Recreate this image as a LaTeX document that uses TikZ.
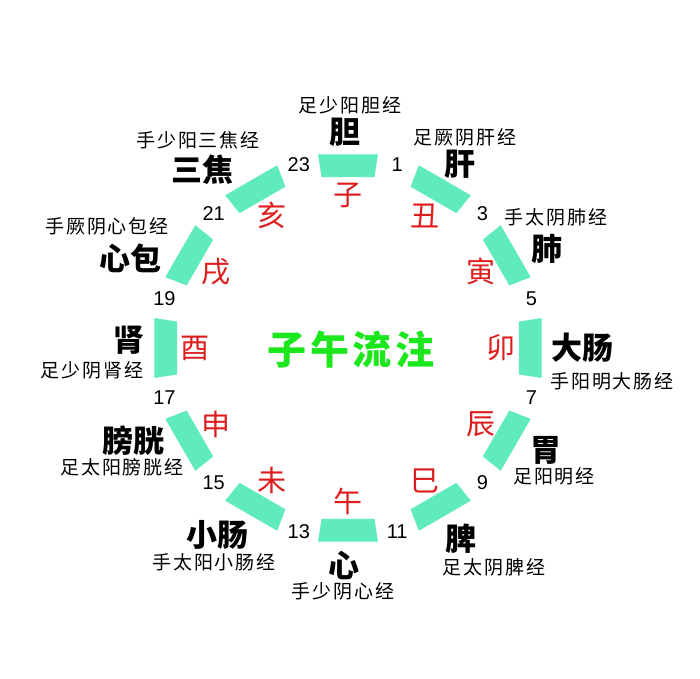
\documentclass[tikz,border=0pt]{standalone}
\usepackage{fontspec}
\setmainfont{Liberation Sans}
\newfontfamily\cjk{Noto Sans CJK SC}
\newfontfamily\cjkm{Noto Sans CJK SC}[LetterSpace=10]
\newfontfamily\cjkc{Noto Sans CJK SC}[LetterSpace=10]
\definecolor{mint}{RGB}{95,235,190}
\definecolor{zred}{RGB}{222,30,30}
\definecolor{zgreen}{RGB}{28,230,28}
\tikzset{
  organ/.style={inner sep=0pt, font=\cjk\bfseries\fontsize{31}{33}\selectfont},
  merid/.style={inner sep=0pt, font=\cjkm\fontsize{19}{22}\selectfont},
  branch/.style={inner sep=0pt, text=zred, font=\cjk\fontsize{29}{31}\selectfont},
  hour/.style={inner sep=0pt, font=\fontsize{20}{22}\selectfont},
  seg/.style={fill=mint, draw=none},
  title/.style={inner sep=0pt, text=zgreen, font=\cjkc\bfseries\fontsize{39}{42}\selectfont}
}
\begin{document}
\begin{tikzpicture}[x=1pt,y=-1pt]
\useasboundingbox[fill=white] (0,0) rectangle (700,678);
% ring
\begin{scope}[shift={(348,348)}, yscale=-1]
  \foreach \k/\b in {0/子,1/丑,2/寅,3/卯,4/辰,5/巳,6/午,7/未,8/申,9/酉,10/戌,11/亥}{
    \pgfmathsetmacro{\a}{90-30*\k}
    \fill[seg] (\a-8.8:173) -- (\a+8.8:173) -- (\a+8.8:196) -- (\a-8.8:196) -- cycle;
    \node[branch] (br\k) at (\a:153) {\b};
  }
  \foreach \k/\h in {0/1,1/3,2/5,3/7,4/9,5/11,6/13,7/15,8/17,9/19,10/21,11/23}{
    \pgfmathsetmacro{\a}{75-30*\k}
    \node[hour] (h\k) at (\a:190) {\h};
  }
\end{scope}
% centre title
\node[title] (title) at (351,350) {子午流注};
% organs and meridians
\node[organ] (o0) at (345,132) {胆};
\node[merid] (m0) at (350,105) {足少阳胆经};
\node[organ] (o1) at (460,164) {肝};
\node[merid] (m1) at (465,137) {足厥阴肝经};
\node[organ] (o2) at (547,249) {肺};
\node[merid] (m2) at (556,217) {手太阴肺经};
\node[organ] (o3) at (582,348) {大肠};
\node[merid] (m3) at (612,381) {手阳明大肠经};
\node[organ] (o4) at (546,450) {胃};
\node[merid] (m4) at (554,476) {足阳明经};
\node[organ] (o5) at (461,539) {脾};
\node[merid] (m5) at (494,567) {足太阴脾经};
\node[organ] (o6) at (344,565) {心};
\node[merid] (m6) at (343,591) {手少阴心经};
\node[organ] (o7) at (217,535) {小肠};
\node[merid] (m7) at (214,562) {手太阳小肠经};
\node[organ] (o8) at (133,441) {膀胱};
\node[merid] (m8) at (122,467) {足太阳膀胱经};
\node[organ] (o9) at (129,340) {肾};
\node[merid] (m9) at (92,370) {足少阴肾经};
\node[organ] (o10) at (130,258) {心包};
\node[merid] (m10) at (107,226) {手厥阴心包经};
\node[organ] (o11) at (202,170) {三焦};
\node[merid] (m11) at (198,140) {手少阳三焦经};
\end{tikzpicture}
\end{document}
